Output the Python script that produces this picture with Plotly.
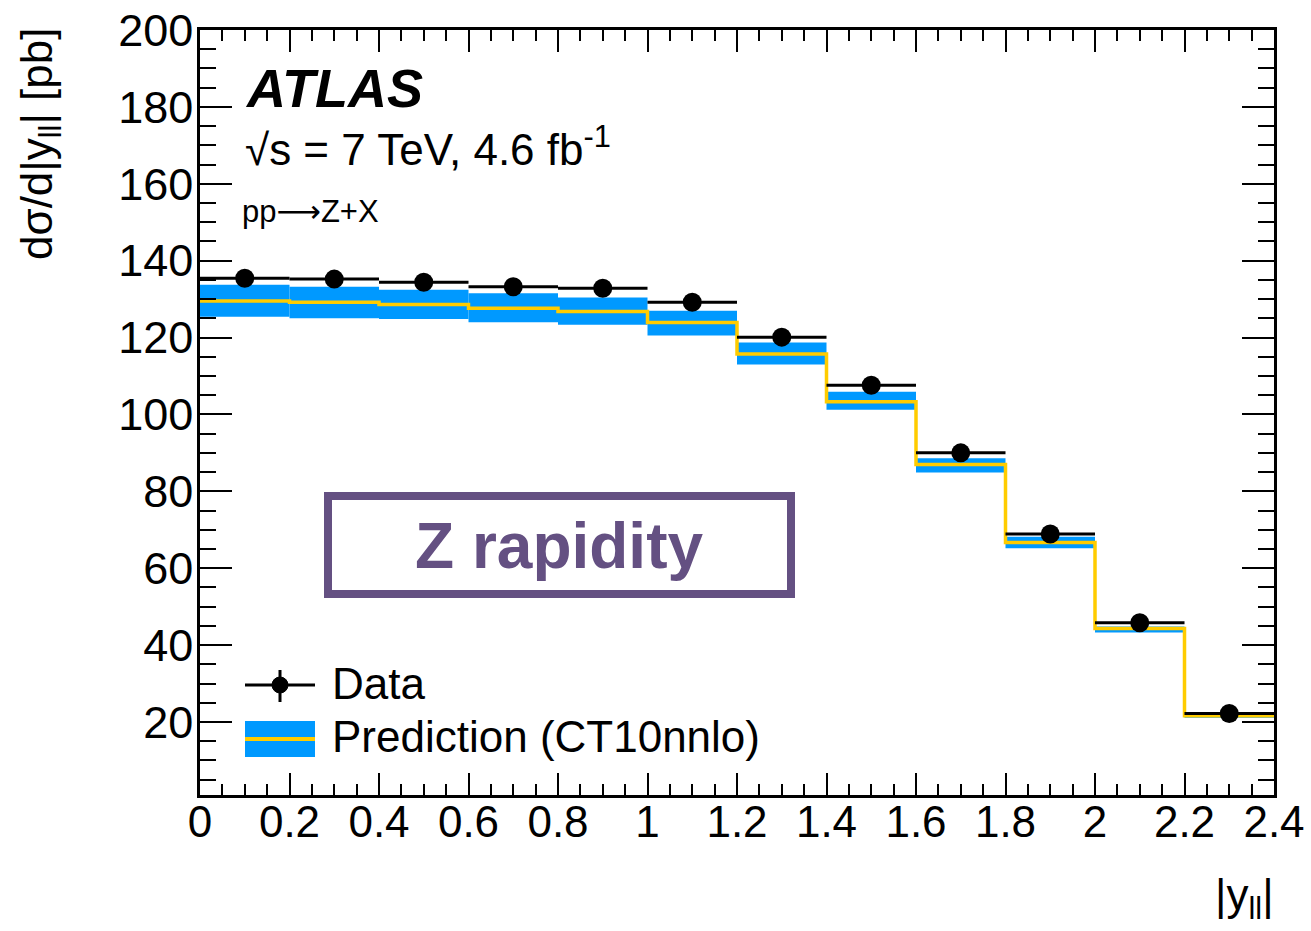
import plotly.graph_objects as go

# ---- data ----
bin_edges = [0.0, 0.2, 0.4, 0.6, 0.8, 1.0, 1.2, 1.4, 1.6, 1.8, 2.0, 2.2, 2.4]
bin_centers = [0.1, 0.3, 0.5, 0.7, 0.9, 1.1, 1.3, 1.5, 1.7, 1.9, 2.1, 2.3]
data_vals = [135.4, 135.2, 134.4, 133.2, 132.8, 129.2, 120.1, 107.6, 90.0, 68.9, 45.8, 22.2]
pred_vals = [129.5, 129.2, 128.6, 127.6, 126.8, 123.9, 115.7, 103.3, 87.0, 66.7, 44.3, 21.6]
pred_lo = [125.4, 125.0, 124.8, 124.0, 123.3, 120.5, 113.0, 101.2, 84.9, 65.2, 43.3, 21.1]
pred_hi = [133.7, 133.2, 132.4, 131.5, 130.4, 127.0, 118.7, 105.9, 88.6, 68.2, 44.8, 22.2]
bin_half_width = 0.1

x_tick_vals = [0, 0.2, 0.4, 0.6, 0.8, 1.0, 1.2, 1.4, 1.6, 1.8, 2.0, 2.2, 2.4]
x_tick_text = ["0", "0.2", "0.4", "0.6", "0.8", "1", "1.2", "1.4", "1.6", "1.8", "2", "2.2", "2.4"]
y_tick_vals = [20, 40, 60, 80, 100, 120, 140, 160, 180, 200]
y_tick_text = ["20", "40", "60", "80", "100", "120", "140", "160", "180", "200"]

BLUE = "#0099FF"
YELLOW = "#FFCC00"
PURPLE = "#645082"
FONT = "Liberation Sans, Arial, Helvetica, sans-serif"

fig = go.Figure()

# prediction uncertainty band
fig.add_trace(go.Bar(
    x=bin_centers,
    y=[h - l for h, l in zip(pred_hi, pred_lo)],
    base=pred_lo,
    width=[2 * bin_half_width] * len(bin_centers),
    marker=dict(color=BLUE, line=dict(width=0)),
    showlegend=False, hoverinfo="skip",
))

# prediction central value (step line)
fig.add_trace(go.Scatter(
    x=bin_edges,
    y=pred_vals + [pred_vals[-1]],
    mode="lines",
    line=dict(color=YELLOW, width=3.5, shape="hv"),
    showlegend=False,
))

# data points
fig.add_trace(go.Scatter(
    x=bin_centers, y=data_vals,
    mode="markers",
    marker=dict(color="black", size=19),
    error_x=dict(type="constant", value=bin_half_width, thickness=3, width=0, color="black"),
    showlegend=False,
))

W, H = 1311, 931
L, R, T, B = 200, 37, 30, 136
pw, ph = W - L - R, H - T - B


def px(x):
    return (x - L) / pw


def py(y):
    return (H - B - y) / ph


annotations = [
    dict(text="<b><i>ATLAS</i></b>", x=px(243), y=py(88), xanchor="left", yanchor="middle",
         font=dict(size=54, family=FONT, color="black")),
    dict(text="√s = 7 TeV, 4.6 fb<sup>-1</sup>", x=px(243), y=py(146), xanchor="left", yanchor="middle",
         font=dict(size=44, family=FONT, color="black")),
    dict(text="pp<span style=\"font-family:DejaVu Sans\">⟶</span>Z+X", x=px(240), y=py(211),
         xanchor="left", yanchor="middle",
         font=dict(size=31, family=FONT, color="black")),
    dict(text="Data", x=px(330), y=py(683), xanchor="left", yanchor="middle",
         font=dict(size=44, family=FONT, color="black")),
    dict(text="Prediction (CT10nnlo)", x=px(330), y=py(736), xanchor="left", yanchor="middle",
         font=dict(size=44, family=FONT, color="black")),
    dict(text="<b>Z rapidity</b>", x=px(559), y=py(546), xanchor="center", yanchor="middle",
         font=dict(size=64, family=FONT, color=PURPLE)),
    dict(text="dσ/d|y<sub>ll</sub>| [pb]", x=px(40), y=py(144), xanchor="center", yanchor="middle",
         textangle=-90, font=dict(size=44, family=FONT, color="black")),
    dict(text="|y<sub>ll</sub>|", x=px(1276), y=py(898), xanchor="right", yanchor="middle",
         font=dict(size=44, family=FONT, color="black")),
]
for a in annotations:
    a.update(xref="paper", yref="paper", showarrow=False)

shapes = [
    # Z rapidity box
    dict(type="rect", xref="paper", yref="paper", x0=px(328), x1=px(791), y0=py(496), y1=py(594),
         line=dict(color=PURPLE, width=8), fillcolor="rgba(0,0,0,0)"),
    # legend: data symbol
    dict(type="line", xref="paper", yref="paper", x0=px(245), x1=px(315), y0=py(685), y1=py(685),
         line=dict(color="black", width=3)),
    dict(type="line", xref="paper", yref="paper", x0=px(280), x1=px(280), y0=py(670), y1=py(702),
         line=dict(color="black", width=3)),
    dict(type="circle", xref="paper", yref="paper", x0=px(272), x1=px(288), y0=py(677), y1=py(693),
         line=dict(color="black", width=1), fillcolor="black"),
    # legend: prediction symbol
    dict(type="rect", xref="paper", yref="paper", x0=px(245), x1=px(315), y0=py(721), y1=py(757),
         line=dict(width=0), fillcolor=BLUE),
    dict(type="line", xref="paper", yref="paper", x0=px(245), x1=px(315), y0=py(739), y1=py(739),
         line=dict(color=YELLOW, width=4)),
]

axis_common = dict(
    showline=True, linecolor="black", linewidth=2.5, mirror="allticks",
    ticks="inside", tickcolor="black", tickwidth=2,
    showgrid=False, zeroline=False, automargin=False,
)

fig.update_xaxes(
    range=[0, 2.4], tickmode="array", tickvals=x_tick_vals, ticktext=x_tick_text,
    ticklen=22, ticklabelstandoff=-14,
    tickfont=dict(size=44, family=FONT, color="black"),
    minor=dict(ticks="inside", ticklen=11, tickmode="linear", tick0=0, dtick=0.05,
               tickcolor="black", tickwidth=2, showgrid=False),
    **axis_common,
)
fig.update_yaxes(
    range=[1, 200], tickmode="array", tickvals=y_tick_vals, ticktext=y_tick_text,
    ticklen=32, ticklabelstandoff=-5,
    tickfont=dict(size=45, family=FONT, color="black"),
    minor=dict(ticks="inside", ticklen=16, tickmode="linear", tick0=0, dtick=5,
               tickcolor="black", tickwidth=2, showgrid=False),
    **axis_common,
)

fig.update_layout(
    width=W, height=H,
    margin=dict(l=L, r=R, t=T, b=B, pad=0),
    paper_bgcolor="white", plot_bgcolor="white",
    showlegend=False,
    barmode="overlay",
    annotations=annotations,
    shapes=shapes,
    font=dict(family=FONT, color="black"),
)

fig.write_html(
    "out.html",
    config={"displayModeBar": False},
    post_script="document.body.style.margin='0';document.body.style.padding='0';"
                "document.body.style.overflow='hidden';",
)
